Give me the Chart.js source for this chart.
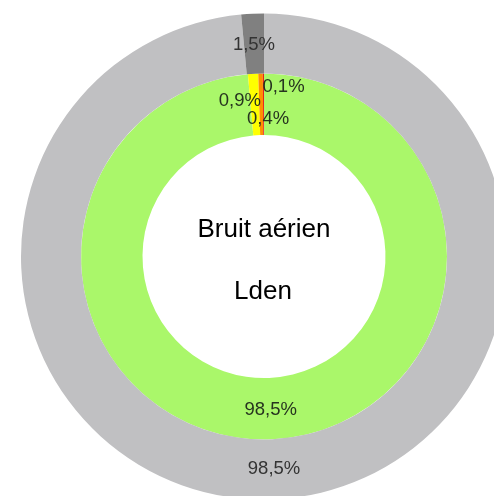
<!DOCTYPE html>
<html>
<head>
<meta charset="utf-8">
<script src="https://cdn.jsdelivr.net/npm/chart.js@4/dist/chart.umd.min.js"></script>
<style>
  html, body { margin: 0; padding: 0; background: #ffffff; overflow: hidden; width: 494px; height: 496px; }
  #wrap { position: absolute; left: 0; top: 0; width: 530px; height: 500px; }
</style>
</head>
<body>
<div id="wrap"><canvas id="c" width="530" height="500"></canvas></div>
<script>
// ---- data ----
const outerCategories = ["Hors zone", "Zone exposée"];
const outerValues = [98.5, 1.5];
const innerCategories = ["< 55 dB", "55-60 dB", "60-65 dB", "> 65 dB"];
const innerValues = [98.5, 0.9, 0.4, 0.1];
const centerLines = ["Bruit aérien", "Lden"];

// ---- styles ----
const outerColors = ["#c0c0c2", "#808080"];
const innerColors = ["#aaf76a", "#ffff00", "#ff9000", "#e8201c"];
const outerTextColor = "#333333";
const innerTextColor = "#26341f";
// label nudges relative to each arc's midpoint (px)
const outerNudge = [[0, 0], [0, 1]];
const innerNudge = [[0, 1], [-15, -4], [7, 15], [20, -17]];

function fmt(v) { return String(v).replace('.', ',') + '%'; }

const labelPlugin = {
  id: 'arcLabels',
  afterDatasetsDraw(chart) {
    const ctx = chart.ctx;
    ctx.save();
    ctx.font = '18.5px "Liberation Sans", Arial, sans-serif';
    ctx.textAlign = 'center';
    ctx.textBaseline = 'middle';
    chart.data.datasets.forEach((ds, di) => {
      const meta = chart.getDatasetMeta(di);
      const nudges = di === 0 ? outerNudge : innerNudge;
      ctx.fillStyle = di === 0 ? outerTextColor : innerTextColor;
      meta.data.forEach((arc, i) => {
        const p = arc.tooltipPosition();
        const n = nudges[i] || [0, 0];
        ctx.fillText(fmt(ds.data[i]), p.x + n[0], p.y + n[1]);
      });
    });
    // center text
    const a = chart.getDatasetMeta(0).data[0];
    ctx.fillStyle = '#000000';
    ctx.font = '26px "Liberation Sans", Arial, sans-serif';
    ctx.textBaseline = 'alphabetic';
    ctx.fillText(centerLines[0], a.x, a.y - 20);
    ctx.fillText(centerLines[1], a.x - 1, a.y + 42);
    ctx.restore();
  }
};

new Chart(document.getElementById('c'), {
  type: 'doughnut',
  data: {
    labels: innerCategories,
    datasets: [
      { data: outerValues, backgroundColor: outerColors, borderWidth: 0, hoverOffset: 0, weight: 60 },
      { data: innerValues, backgroundColor: innerColors, borderWidth: 0, hoverOffset: 0, weight: 61.5 }
    ]
  },
  options: {
    responsive: false,
    animation: false,
    cutout: '50%',
    layout: { padding: { left: 21, right: 23, top: 13.5, bottom: 0.5 } },
    plugins: { legend: { display: false }, tooltip: { enabled: false } }
  },
  plugins: [labelPlugin]
});
</script>
</body>
</html>
